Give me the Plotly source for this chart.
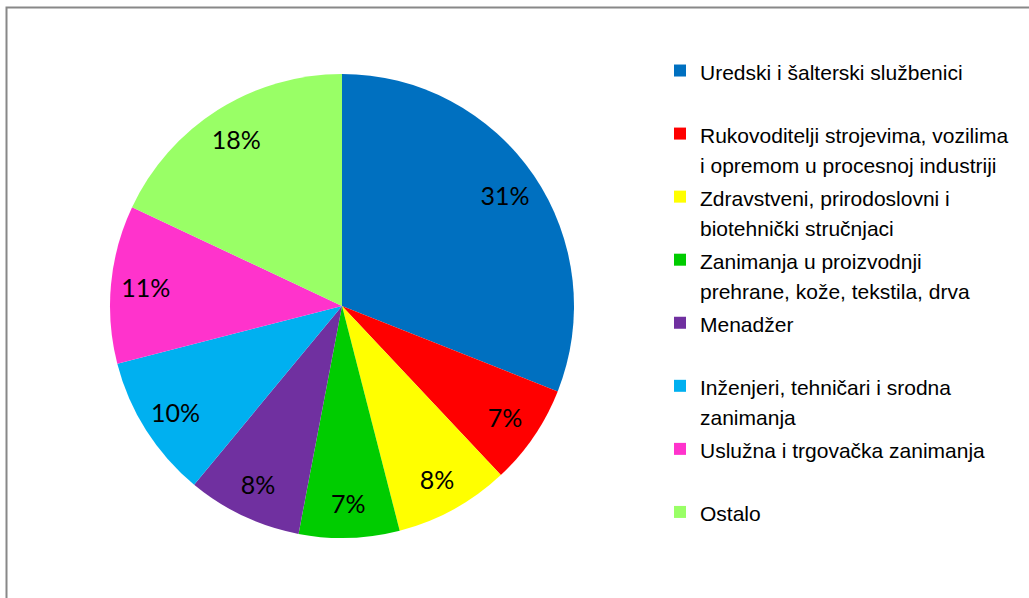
import plotly.graph_objects as go

categories = [
    "Uredski i šalterski službenici",
    "Rukovoditelji strojevima, vozilima<br>i opremom u procesnoj industriji",
    "Zdravstveni, prirodoslovni i<br>biotehnički stručnjaci",
    "Zanimanja u proizvodnji<br>prehrane, kože, tekstila, drva",
    "Menadžer",
    "Inženjeri, tehničari i srodna<br>zanimanja",
    "Uslužna i trgovačka zanimanja",
    "Ostalo",
]
values = [31, 7, 8, 7, 8, 10, 11, 18]
colors = ["#0070C0", "#FF0000", "#FFFF00", "#00CC00", "#7030A0", "#00B0F0", "#FF33CC", "#99FF66"]

W, H = 1029, 598
pie_domain = dict(x=[110 / W, 574 / W], y=[(H - 538) / H, (H - 74) / H])


def legend_label(text):
    lines = text.split("<br>")
    if len(lines) < 2:
        lines.append(" ")
    return "<br>".join(f'<span style="font-size:21px">{ln}</span>' for ln in lines)


labels = [legend_label(c) for c in categories]

fig = go.Figure()

# coloured slices + legend
fig.add_trace(
    go.Pie(
        labels=labels,
        values=values,
        sort=False,
        direction="clockwise",
        rotation=0,
        marker=dict(colors=colors, line=dict(width=0)),
        textinfo="none",
        hoverinfo="label+percent",
        domain=pie_domain,
    )
)

# transparent ring of the same data carrying the percentage labels (places them near the rim)
fig.add_trace(
    go.Pie(
        labels=labels,
        values=values,
        sort=False,
        direction="clockwise",
        rotation=0,
        hole=0.7,
        showlegend=False,
        marker=dict(colors=["rgba(0,0,0,0)"] * len(values), line=dict(width=0)),
        texttemplate="%{percent:.0%}",
        textposition="inside",
        insidetextorientation="horizontal",
        textfont=dict(family="Lato, Carlito, sans-serif", size=25, color="black"),
        hoverinfo="skip",
        domain=pie_domain,
    )
)

fig.update_layout(
    width=W,
    height=H,
    margin=dict(l=0, r=0, t=0, b=0),
    paper_bgcolor="white",
    plot_bgcolor="white",
    showlegend=True,
    legend=dict(
        x=660 / W,
        y=1 - 49 / H,
        xanchor="left",
        yanchor="top",
        valign="top",
        font=dict(family="Liberation Sans, Arial, sans-serif", size=23.1, color="black"),
        bgcolor="rgba(0,0,0,0)",
    ),
    shapes=[
        dict(
            type="path",
            xref="paper",
            yref="paper",
            path=f"M {6.5 / W},-0.05 L {6.5 / W},{1 - 7.5 / H} L 1.05,{1 - 7.5 / H}",
            line=dict(color="#888888", width=2),
        )
    ],
)

fig.write_html(
    "out.html",
    config={"displayModeBar": False},
    post_script="document.body.style.margin='0';",
)
